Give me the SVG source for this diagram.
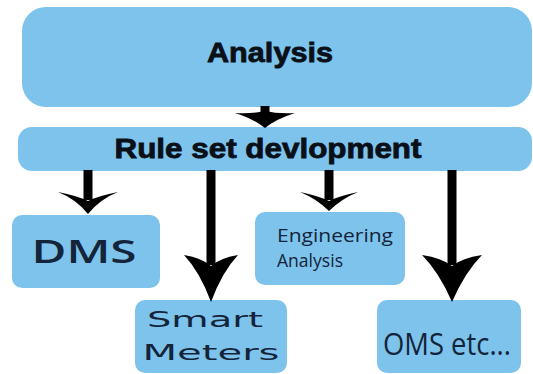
<svg xmlns="http://www.w3.org/2000/svg" width="533" height="374" viewBox="0 0 533 374">
<style>
.box{fill:#7dc3ec}
.shaft{stroke:#000;stroke-width:9;fill:none}
.head{fill:#000}
.hb{font-family:"Liberation Sans",Arial,sans-serif;font-weight:bold;fill:#0a1018;stroke:#0a1018;stroke-width:0.8}
.t{font-family:"Open Sans","DejaVu Sans",sans-serif;fill:#14243a}
.w{font-family:"DejaVu Sans",Verdana,sans-serif;fill:#14243a}
</style>
<rect width="533" height="374" fill="#fff"/>
<g id="analysis">
<rect class="box" x="22" y="7" width="510" height="100" rx="24"/>
<text class="hb" x="270" y="62" font-size="28" text-anchor="middle" textLength="126" lengthAdjust="spacingAndGlyphs">Analysis</text>
</g>
<g id="ruleset">
<rect class="box" x="18" y="127" width="514" height="44" rx="14"/>
<text class="hb" x="268" y="158" font-size="27" text-anchor="middle" textLength="307" lengthAdjust="spacingAndGlyphs">Rule set devlopment</text>
</g>
<g id="dms">
<rect class="box" x="12" y="215" width="148" height="73" rx="10"/>
<text class="t" x="84" y="263" font-size="32" font-weight="600" text-anchor="middle" textLength="105" lengthAdjust="spacingAndGlyphs">DMS</text>
</g>
<g id="smart">
<rect class="box" x="135" y="300" width="152" height="73" rx="10"/>
<text class="w" x="205" y="327" font-size="22" text-anchor="middle" textLength="116" lengthAdjust="spacingAndGlyphs">Smart</text>
<text class="w" x="211" y="360" font-size="22" text-anchor="middle" textLength="137" lengthAdjust="spacingAndGlyphs">Meters</text>
</g>
<g id="eng">
<rect class="box" x="255" y="212" width="150" height="73" rx="10"/>
<text class="t" x="277" y="242" font-size="19" textLength="116" lengthAdjust="spacingAndGlyphs">Engineering</text>
<text class="t" x="277" y="267" font-size="19" textLength="66" lengthAdjust="spacingAndGlyphs">Analysis</text>
</g>
<g id="oms">
<rect class="box" x="377" y="300" width="144" height="73" rx="10"/>
<text class="t" x="447" y="355" font-size="31" text-anchor="middle" textLength="128" lengthAdjust="spacingAndGlyphs">OMS etc...</text>
</g>
<g id="connectors">
<line class="shaft" x1="265" y1="106" x2="265" y2="118"/>
<path class="head" d="M235,113 Q252,114 265,111 Q278,114 295,113 Q276,119 265,128 Q254,119 235,113 Z"/>
<line class="shaft" x1="88" y1="170" x2="88" y2="200"/>
<path class="head" d="M58,192 Q78,196 88,201 Q98,196 118,192 Q100,199 88,214 Q76,199 58,192 Z"/>
<line class="shaft" x1="211" y1="170" x2="211" y2="265"/>
<path class="head" d="M184,255 Q202,258 211,266 Q220,258 238,255 Q222,272 211,302 Q200,272 184,255 Z"/>
<line class="shaft" x1="329" y1="170" x2="329" y2="200"/>
<path class="head" d="M300,192 Q319,196 329,201 Q339,196 358,192 Q341,199 329,211 Q317,199 300,192 Z"/>
<line class="shaft" x1="452" y1="170" x2="452" y2="265"/>
<path class="head" d="M422,255 Q442,258 452,266 Q462,258 482,255 Q465,272 452,302 Q439,272 422,255 Z"/>
</g>
</svg>
